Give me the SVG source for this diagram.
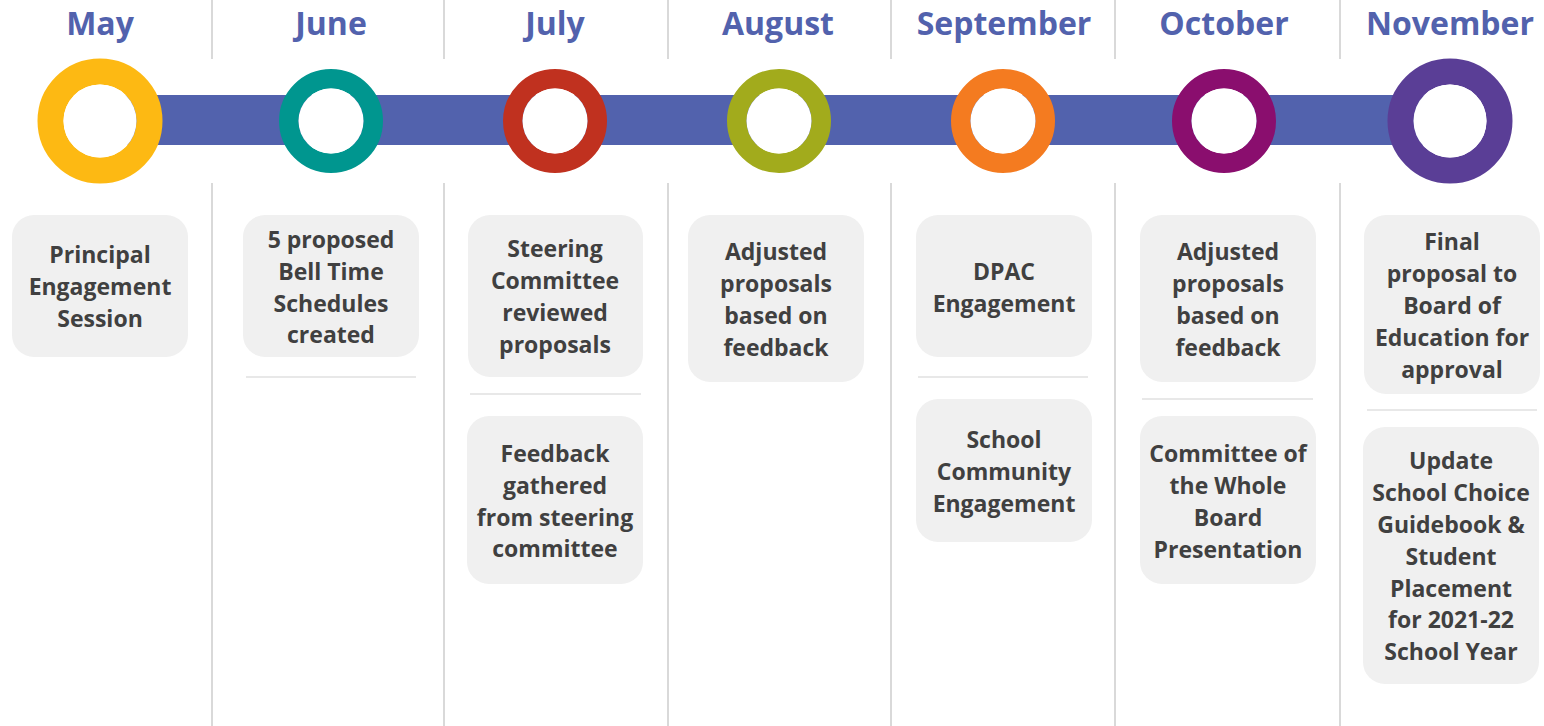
<svg xmlns="http://www.w3.org/2000/svg" width="1544" height="726" viewBox="0 0 1544 726">
<style>
.month{font-family:"Open Sans","Liberation Sans",sans-serif;font-weight:700;font-size:32px;fill:#5262ad;text-anchor:middle}
.t{font-family:"Open Sans","Liberation Sans",sans-serif;font-weight:700;font-size:23px;fill:#404040;text-anchor:middle}
.box{fill:#f0f0f0}
.sep{stroke:#d9d9d9;stroke-width:2}
.hsep{stroke:#e8e8e8;stroke-width:2}
.ring{fill:none}
</style>
<rect width="1544" height="726" fill="#ffffff"/>
<g id="separators">
<line class="sep" x1="212" y1="0" x2="212" y2="59"/><line class="sep" x1="212" y1="183" x2="212" y2="726"/>
<line class="sep" x1="444" y1="0" x2="444" y2="59"/><line class="sep" x1="444" y1="183" x2="444" y2="726"/>
<line class="sep" x1="668" y1="0" x2="668" y2="59"/><line class="sep" x1="668" y1="183" x2="668" y2="726"/>
<line class="sep" x1="891" y1="0" x2="891" y2="59"/><line class="sep" x1="891" y1="183" x2="891" y2="726"/>
<line class="sep" x1="1115" y1="0" x2="1115" y2="59"/><line class="sep" x1="1115" y1="183" x2="1115" y2="726"/>
<line class="sep" x1="1340" y1="0" x2="1340" y2="59"/><line class="sep" x1="1340" y1="183" x2="1340" y2="726"/>
<line class="hsep" x1="246" y1="377" x2="416" y2="377"/>
<line class="hsep" x1="470" y1="394" x2="641" y2="394"/>
<line class="hsep" x1="918" y1="377" x2="1088" y2="377"/>
<line class="hsep" x1="1142" y1="399" x2="1313" y2="399"/>
<line class="hsep" x1="1367" y1="410" x2="1537" y2="410"/>
</g>
<g id="connectors">
<rect x="100" y="95" width="1350" height="50" fill="#5262ad"/>
</g>
<g id="may">
<text class="month" x="100" y="35">May</text>
<circle class="ring" cx="100" cy="121" r="49.5" stroke="#fdb913" stroke-width="26"/>
<circle cx="100" cy="121" r="36.5" fill="#fff"/>
<rect class="box" x="12" y="215" width="176" height="142" rx="22"/>
<text class="t" x="100"><tspan x="100" y="263">Principal</tspan><tspan x="100" y="295">Engagement</tspan><tspan x="100" y="327">Session</tspan></text>
</g>
<g id="june">
<text class="month" x="331" y="35">June</text>
<circle class="ring" cx="331" cy="121" r="42.25" stroke="#00968f" stroke-width="19.5"/>
<circle cx="331" cy="121" r="32.5" fill="#fff"/>
<rect class="box" x="243" y="215" width="176" height="142" rx="22"/>
<text class="t"><tspan x="331" y="248">5 proposed</tspan><tspan x="331" y="280">Bell Time</tspan><tspan x="331" y="312">Schedules</tspan><tspan x="331" y="343">created</tspan></text>
</g>
<g id="july">
<text class="month" x="555" y="35">July</text>
<circle class="ring" cx="555" cy="121" r="42.25" stroke="#c0311f" stroke-width="19.5"/>
<circle cx="555" cy="121" r="32.5" fill="#fff"/>
<rect class="box" x="468" y="215" width="175" height="162" rx="22"/>
<text class="t"><tspan x="555" y="257">Steering</tspan><tspan x="555" y="289">Committee</tspan><tspan x="555" y="321">reviewed</tspan><tspan x="555" y="353">proposals</tspan></text>
<rect class="box" x="467" y="416" width="176" height="168" rx="22"/>
<text class="t"><tspan x="555" y="462">Feedback</tspan><tspan x="555" y="494">gathered</tspan><tspan x="555" y="526">from steering</tspan><tspan x="555" y="557">committee</tspan></text>
</g>
<g id="august">
<text class="month" x="778" y="35">August</text>
<circle class="ring" cx="779" cy="121" r="42.25" stroke="#a2ab1c" stroke-width="19.5"/>
<circle cx="779" cy="121" r="32.5" fill="#fff"/>
<rect class="box" x="688" y="215" width="176" height="167" rx="22"/>
<text class="t"><tspan x="776" y="260">Adjusted</tspan><tspan x="776" y="292">proposals</tspan><tspan x="776" y="324">based on</tspan><tspan x="776" y="356">feedback</tspan></text>
</g>
<g id="september">
<text class="month" x="1004" y="35">September</text>
<circle class="ring" cx="1003" cy="121" r="42.25" stroke="#f47b20" stroke-width="19.5"/>
<circle cx="1003" cy="121" r="32.5" fill="#fff"/>
<rect class="box" x="916" y="215" width="176" height="142" rx="22"/>
<text class="t"><tspan x="1004" y="280">DPAC</tspan><tspan x="1004" y="312">Engagement</tspan></text>
<rect class="box" x="916" y="399" width="176" height="143" rx="22"/>
<text class="t"><tspan x="1004" y="448">School</tspan><tspan x="1004" y="480">Community</tspan><tspan x="1004" y="512">Engagement</tspan></text>
</g>
<g id="october">
<text class="month" x="1224" y="35">October</text>
<circle class="ring" cx="1224" cy="121" r="42.25" stroke="#8a0e6e" stroke-width="19.5"/>
<circle cx="1224" cy="121" r="32.5" fill="#fff"/>
<rect class="box" x="1140" y="215" width="176" height="167" rx="22"/>
<text class="t"><tspan x="1228" y="260">Adjusted</tspan><tspan x="1228" y="292">proposals</tspan><tspan x="1228" y="324">based on</tspan><tspan x="1228" y="356">feedback</tspan></text>
<rect class="box" x="1140" y="416" width="176" height="168" rx="22"/>
<text class="t"><tspan x="1228" y="462">Committee of</tspan><tspan x="1228" y="494">the Whole</tspan><tspan x="1228" y="526">Board</tspan><tspan x="1228" y="558">Presentation</tspan></text>
</g>
<g id="november">
<text class="month" x="1450" y="35">November</text>
<circle class="ring" cx="1450" cy="121" r="49.5" stroke="#5a3e96" stroke-width="26"/>
<circle cx="1450" cy="121" r="36.5" fill="#fff"/>
<rect class="box" x="1364" y="215" width="176" height="179" rx="22"/>
<text class="t"><tspan x="1452" y="250">Final</tspan><tspan x="1452" y="282">proposal to</tspan><tspan x="1452" y="314">Board of</tspan><tspan x="1452" y="346">Education for</tspan><tspan x="1452" y="378">approval</tspan></text>
<rect class="box" x="1363" y="427" width="176" height="257" rx="22"/>
<text class="t"><tspan x="1451" y="469">Update</tspan><tspan x="1451" y="501">School Choice</tspan><tspan x="1451" y="533">Guidebook &amp;</tspan><tspan x="1451" y="565">Student</tspan><tspan x="1451" y="597">Placement</tspan><tspan x="1451" y="628">for 2021-22</tspan><tspan x="1451" y="660">School Year</tspan></text>
</g>
</svg>
